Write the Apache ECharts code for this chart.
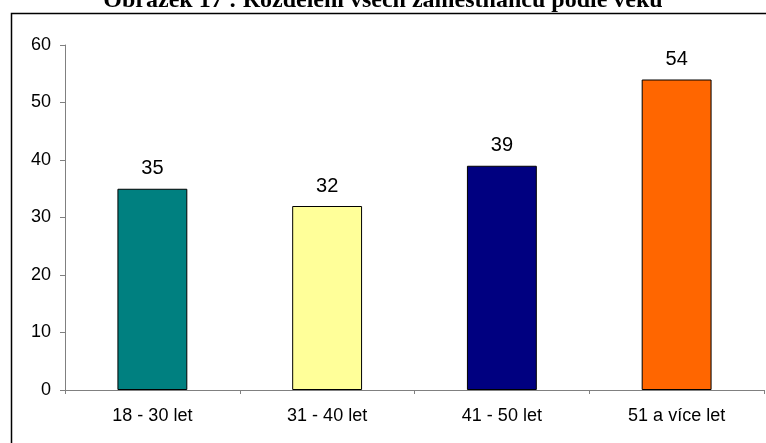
<!DOCTYPE html>
<html><head><meta charset="utf-8">
<script src="https://cdn.jsdelivr.net/npm/echarts@6/dist/echarts.min.js"></script>
<style>html,body{margin:0;padding:0;background:#fff}#c{width:766px;height:443px}</style>
</head><body><div id="c"></div>
<script>
const categories = ['18 - 30 let', '31 - 40 let', '41 - 50 let', '51 a více let'];
const values = [35, 32, 39, 54];
const barColors = ['#008080', '#FFFF99', '#000080', '#FF6600'];
const titleText = 'Obrázek 17 : Rozdělení všech zaměstnanců podle věku';

const chart = echarts.init(document.getElementById('c'));
chart.setOption({
  animation: false,
  title: {
    text: titleText, left: 'center', top: -16,
    textStyle: { fontFamily: 'Liberation Serif', fontWeight: 'bold', fontSize: 24, color: '#000' }
  },
  graphic: [{
    type: 'rect', shape: { x: 11.5, y: 13.5, width: 800, height: 500 },
    style: { fill: 'none', stroke: '#000', lineWidth: 1.5 }, silent: true, z: -1
  }],
  grid: { left: 65, right: 2, top: 45, bottom: 53 },
  xAxis: {
    type: 'category', data: categories,
    axisLine: { lineStyle: { color: '#808080', width: 1 } },
    axisTick: { show: true, alignWithLabel: false, length: 4, lineStyle: { color: '#808080' } },
    axisLabel: { color: '#000', fontFamily: 'Liberation Sans', fontSize: 18, margin: 17 }
  },
  yAxis: {
    type: 'value', min: 0, max: 60, interval: 10,
    axisLine: { show: true, lineStyle: { color: '#808080', width: 1 } },
    axisTick: { show: true, length: 5, lineStyle: { color: '#808080' } },
    splitLine: { show: false },
    axisLabel: { color: '#000', fontFamily: 'Liberation Sans', fontSize: 18, margin: 14 }
  },
  series: [{
    type: 'bar', barWidth: '40%',
    data: values.map((v, i) => ({ value: v, itemStyle: { color: barColors[i] } })),
    itemStyle: { borderColor: '#000', borderWidth: 1 },
    label: { show: true, position: 'top', distance: 10, color: '#000', fontFamily: 'Liberation Sans', fontSize: 20 }
  }]
});
</script></body></html>
